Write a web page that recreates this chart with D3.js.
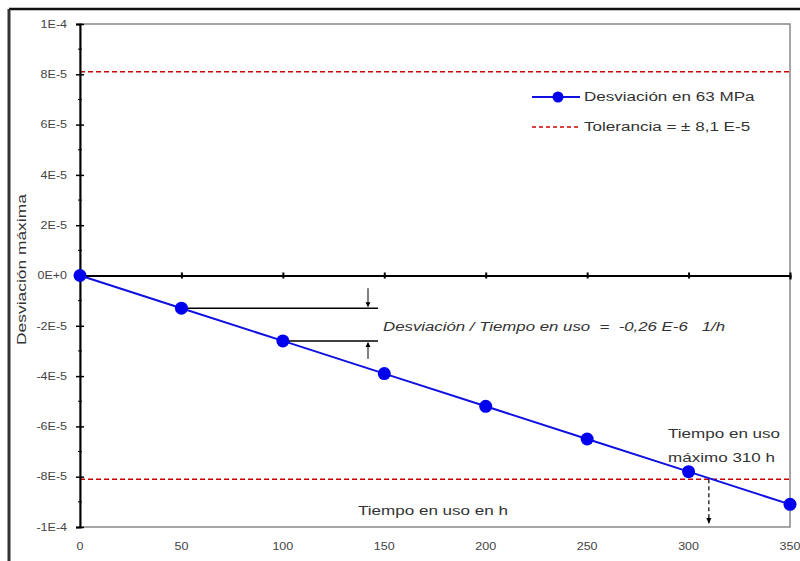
<!DOCTYPE html>
<html>
<head>
<meta charset="utf-8">
<script src="https://cdn.jsdelivr.net/npm/d3@7"></script>
<style>
  body { margin: 0; background: #fff; }
  svg { display: block; font-family: "Liberation Sans", Arial, sans-serif; }
</style>
</head>
<body>
<svg id="chart" width="800" height="561"></svg>
<script>
// data
const hours = [0, 50, 100, 150, 200, 250, 300, 350];
const deviation = [0, -1.3e-5, -2.6e-5, -3.9e-5, -5.2e-5, -6.5e-5, -7.8e-5, -9.1e-5];
const tolerance = 8.1e-5;
const maxHours = 310;
const yTicks = [1e-4, 8e-5, 6e-5, 4e-5, 2e-5, 0, -2e-5, -4e-5, -6e-5, -8e-5, -1e-4];
const yTickLabels = ['1E-4', '8E-5', '6E-5', '4E-5', '2E-5', '0E+0', '-2E-5', '-4E-5', '-6E-5', '-8E-5', '-1E-4'];
const xTicks = [0, 50, 100, 150, 200, 250, 300, 350];

const margin = {top: 24, right: 10, bottom: 34, left: 80},
    width = 800 - margin.left - margin.right,
    height = 561 - margin.top - margin.bottom;

// the original's lettering is drawn wide, so stretch texts horizontally
function stretch(sel, factor) {
    sel.each(function() {
        const w = this.getComputedTextLength();
        d3.select(this).attr('textLength', w * factor).attr('lengthAdjust', 'spacingAndGlyphs');
    });
    return sel;
}

const root = d3.select('#chart');

// outer frame
root.append('line').attr('x1', 9).attr('x2', 800).attr('y1', 9).attr('y2', 9)
    .attr('stroke', '#111').attr('stroke-width', 2.5);
root.append('line').attr('x1', 9).attr('x2', 9).attr('y1', 9).attr('y2', 561)
    .attr('stroke', '#333').attr('stroke-width', 3);

const svg = root.append('g')
    .attr('transform', 'translate(' + margin.left + ',' + margin.top + ')');

const x = d3.scaleLinear().domain([0, 350]).range([0, width]);
const y = d3.scaleLinear().domain([-1e-4, 1e-4]).range([height, 0]);

// plot area border
svg.append('rect').attr('x', 0).attr('y', 0).attr('width', width).attr('height', height)
    .attr('fill', 'none').attr('stroke', '#888').attr('stroke-width', 1.5);

// tolerance lines
[tolerance, -tolerance].forEach(t => {
    svg.append('line')
        .attr('x1', 0).attr('x2', width)
        .attr('y1', y(t)).attr('y2', y(t))
        .attr('stroke', '#cc0000').attr('stroke-width', 1.6)
        .attr('stroke-dasharray', '5,3');
});

// Y axis
const yAxis = svg.append('g')
    .call(d3.axisLeft(y).tickValues(yTicks).tickSize(4)
        .tickFormat((d, i) => yTickLabels[i]));
yAxis.select('.domain').attr('stroke', '#000').attr('stroke-width', 2);
yAxis.selectAll('.tick line').attr('stroke', '#000').attr('stroke-width', 1.5).attr('x2', 4).attr('x1', -4);
stretch(yAxis.selectAll('.tick text').attr('x', -13).attr('fill', '#444')
    .style('font-size', '10px'), 1.25);
// minor ticks
svg.append('g').selectAll('line')
    .data(d3.range(-10, 11).filter(i => i % 2 !== 0).map(i => i * 1e-5))
    .enter().append('line')
    .attr('x1', -2).attr('x2', 2)
    .attr('y1', d => y(d)).attr('y2', d => y(d))
    .attr('stroke', '#000').attr('stroke-width', 1);

// X axis line at zero
const xAxis = svg.append('g')
    .attr('transform', 'translate(0,' + y(0) + ')')
    .call(d3.axisBottom(x).tickValues(xTicks).tickSize(4).tickFormat(''));
xAxis.select('.domain').attr('stroke', '#000').attr('stroke-width', 2);
xAxis.selectAll('.tick line').attr('y1', -3).attr('y2', 3).attr('stroke', '#000').attr('stroke-width', 2);

// x tick labels below plot
stretch(svg.append('g').selectAll('text')
    .data(xTicks)
    .enter().append('text')
    .attr('x', d => x(d))
    .attr('y', height + 23)
    .attr('text-anchor', 'middle')
    .attr('fill', '#444')
    .style('font-size', '10px')
    .text(d => d), 1.25);

// annotation: slope
[[1, 50], [2, 100]].forEach(([i, h]) => {
    svg.append('line')
        .attr('x1', x(h)).attr('x2', 378 - margin.left)
        .attr('y1', y(deviation[i])).attr('y2', y(deviation[i]))
        .attr('stroke', '#000').attr('stroke-width', 1.5);
});
const arrowX = 368 - margin.left;
svg.append('line').attr('x1', arrowX).attr('x2', arrowX)
    .attr('y1', y(deviation[1]) - 20).attr('y2', y(deviation[1]) - 2)
    .attr('stroke', '#000').attr('stroke-width', 1);
svg.append('path')
    .attr('d', d3.line()([[arrowX - 2.5, y(deviation[1]) - 6], [arrowX + 2.5, y(deviation[1]) - 6], [arrowX, y(deviation[1]) - 1]]))
    .attr('fill', '#000');
svg.append('line').attr('x1', arrowX).attr('x2', arrowX)
    .attr('y1', y(deviation[2]) + 2).attr('y2', y(deviation[2]) + 18)
    .attr('stroke', '#000').attr('stroke-width', 1);
svg.append('path')
    .attr('d', d3.line()([[arrowX - 2.5, y(deviation[2]) + 6], [arrowX + 2.5, y(deviation[2]) + 6], [arrowX, y(deviation[2]) + 1]]))
    .attr('fill', '#000');

stretch(svg.append('text')
    .attr('x', 383 - margin.left).attr('y', 331 - margin.top)
    .attr('fill', '#333').style('font-size', '12px').style('font-style', 'italic')
    .style('white-space', 'pre')
    .text('Desviación / Tiempo en uso  =  -0,26 E-6   1/h'), 1.4);

// annotation: max usage time
svg.append('line')
    .attr('x1', x(maxHours)).attr('x2', x(maxHours))
    .attr('y1', y(-tolerance)).attr('y2', height - 4)
    .attr('stroke', '#000').attr('stroke-width', 1.2).attr('stroke-dasharray', '4,3');
svg.append('path')
    .attr('d', d3.line()([[x(maxHours) - 2.5, height - 9], [x(maxHours) + 2.5, height - 9], [x(maxHours), height - 3]]))
    .attr('fill', '#000');
stretch(svg.append('text')
    .attr('x', 668 - margin.left).attr('y', 438 - margin.top)
    .attr('fill', '#333').style('font-size', '12px')
    .text('Tiempo en uso'), 1.42);
stretch(svg.append('text')
    .attr('x', 668 - margin.left).attr('y', 462 - margin.top)
    .attr('fill', '#333').style('font-size', '12px')
    .text('máximo 310 h'), 1.42);

// series line
const pts = hours.map((h, i) => [h, deviation[i]]);
svg.append('path')
    .datum(pts)
    .attr('d', d3.line().x(d => x(d[0])).y(d => y(d[1])))
    .attr('fill', 'none').attr('stroke', '#1010e0').attr('stroke-width', 2);
svg.selectAll('.pt')
    .data(pts)
    .enter().append('circle')
    .attr('cx', d => x(d[0])).attr('cy', d => y(d[1]))
    .attr('r', 6.5).attr('fill', '#0000ee');

// axis titles
stretch(svg.append('text')
    .attr('x', 358 - margin.left).attr('y', 515 - margin.top)
    .attr('fill', '#333').style('font-size', '12px')
    .text('Tiempo en uso en h'), 1.42);
stretch(root.append('text')
    .attr('transform', 'translate(26,345) rotate(-90)')
    .attr('fill', '#333').style('font-size', '12px')
    .text('Desviación máxima'), 1.45);

// legend
const lg = root.append('g');
lg.append('line').attr('x1', 532).attr('x2', 580).attr('y1', 97).attr('y2', 97)
    .attr('stroke', '#1010e0').attr('stroke-width', 2);
lg.append('circle').attr('cx', 558).attr('cy', 97).attr('r', 5.5).attr('fill', '#0000ee');
stretch(lg.append('text').attr('x', 584).attr('y', 101).attr('fill', '#333').style('font-size', '12px')
    .text('Desviación en 63 MPa'), 1.42);
lg.append('line').attr('x1', 532).attr('x2', 580).attr('y1', 127).attr('y2', 127)
    .attr('stroke', '#cc0000').attr('stroke-width', 1.6).attr('stroke-dasharray', '4,3');
stretch(lg.append('text').attr('x', 584).attr('y', 131).attr('fill', '#333').style('font-size', '12px')
    .text('Tolerancia = ± 8,1 E-5'), 1.42);
</script>
</body>
</html>
